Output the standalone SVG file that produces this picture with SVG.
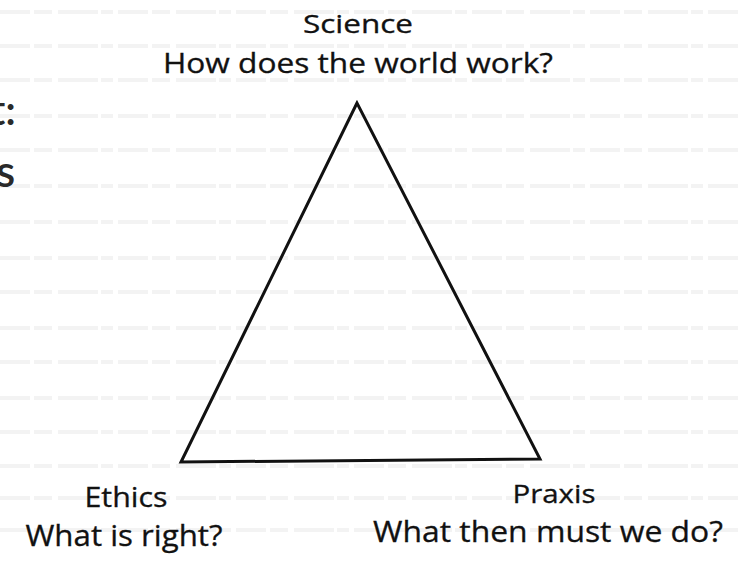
<svg xmlns="http://www.w3.org/2000/svg" width="740" height="563" viewBox="0 0 740 563">
<style>
.hand{font-family:"Open Sans","DejaVu Sans",sans-serif;fill:#111;text-anchor:middle;stroke:#111;stroke-width:0.3}
.big{font-family:Lato,"Open Sans",sans-serif;font-weight:600;fill:#2a2a2a}
.bg{stroke:#f3f3f3;stroke-width:4;stroke-dasharray:30 4 18 6 40 3 12 5;fill:none}
</style>
<rect width="740" height="563" fill="#ffffff"/>
<g id="background-texture">
<path class="bg" d="M0 12H740M0 46H740M0 80H740M0 116H740M0 150H740M0 186H740M0 222H740M0 258H740M0 292H740M0 328H740M0 362H740M0 398H740M0 432H740M0 466H740M0 498H740M0 530H740"/>
</g>
<g id="left-fragment">
<text class="big" x="-10" y="125" font-size="42">t:</text>
<text class="big" x="-4" y="187" font-size="44">s</text>
</g>
<g id="connectors">
<polygon points="357,103 181,462 540,459" fill="none" stroke="#111" stroke-width="3" stroke-linejoin="miter"/>
</g>
<g id="node-science">
<text class="hand" x="358" y="33" font-size="25" textLength="110" lengthAdjust="spacingAndGlyphs">Science</text>
<text class="hand" x="358" y="73" font-size="27" textLength="390" lengthAdjust="spacingAndGlyphs">How does the world work?</text>
</g>
<g id="node-ethics">
<text class="hand" x="126" y="507" font-size="27" textLength="83" lengthAdjust="spacingAndGlyphs">Ethics</text>
<text class="hand" x="124" y="546" font-size="29" textLength="197" lengthAdjust="spacingAndGlyphs">What is right?</text>
</g>
<g id="node-praxis">
<text class="hand" x="554" y="503" font-size="26" textLength="83" lengthAdjust="spacingAndGlyphs">Praxis</text>
<text class="hand" x="548" y="542" font-size="29" textLength="350" lengthAdjust="spacingAndGlyphs">What then must we do?</text>
</g>
</svg>
